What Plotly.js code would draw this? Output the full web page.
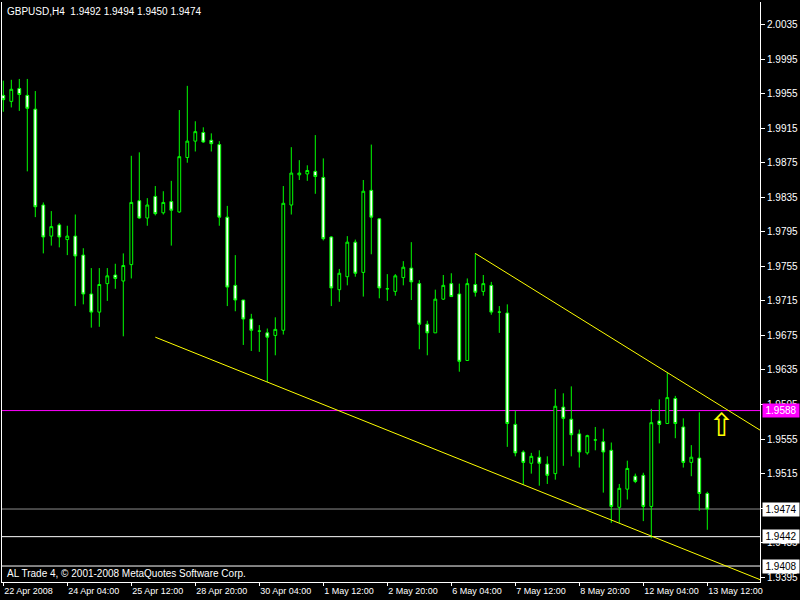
<!DOCTYPE html>
<html>
<head>
<meta charset="utf-8">
<script src="https://cdn.plot.ly/plotly-3.0.1.min.js"></script>
<style>html,body{margin:0;padding:0;background:#000;}#chart{width:800px;height:600px;}</style>
</head>
<body>
<div id="chart"></div>
<script>
// ---- data (GBPUSD H4, bar index 0 = 22 Apr 2008 20:00) ----
const symbol = 'GBPUSD';
const timeframe = 'H4';
const opens  = [1.9953,1.9946,1.9961,1.9953,1.9937,1.9826,1.9790,1.9803,1.9786,1.9790,
                1.9768,1.9723,1.9702,1.9735,1.9745,1.9738,1.9757,1.9831,1.9811,1.9836,
                1.9817,1.9830,1.9818,1.9881,1.9900,1.9910,1.9901,1.9896,1.9812,1.9733,
                1.9716,1.9694,1.9680,1.9678,1.9675,1.9681,1.9826,1.9861,1.9862,1.9865,
                1.9858,1.9789,1.9728,1.9743,1.9783,1.9748,1.9843,1.9810,1.9729,1.9726,
                1.9742,1.9753,1.9735,1.9688,1.9678,1.9717,1.9735,1.9723,1.9646,1.9734,
                1.9726,1.9733,1.9702,1.9701,1.9572,1.9540,1.9527,1.9534,1.9526,1.9515,
                1.9592,1.9578,1.9561,1.9539,1.9554,1.9552,1.9542,1.9476,1.9497,1.9512,
                1.9513,1.9477,1.9576,1.9573,1.9602,1.9569,1.9528,1.9533,1.9492];
const highs  = [1.9970,1.9971,1.9972,1.9972,1.9958,1.9829,1.9819,1.9805,1.9802,1.9815,
                1.9776,1.9753,1.9753,1.9753,1.9758,1.9770,1.9883,1.9887,1.9834,1.9848,
                1.9842,1.9854,1.9936,1.9964,1.9923,1.9916,1.9909,1.9900,1.9825,1.9768,
                1.9716,1.9700,1.9687,1.9683,1.9696,1.9848,1.9893,1.9878,1.9872,1.9907,
                1.9880,1.9790,1.9752,1.9790,1.9786,1.9855,1.9896,1.9811,1.9746,1.9746,
                1.9761,1.9783,1.9739,1.9692,1.9728,1.9745,1.9747,1.9735,1.9741,1.9770,
                1.9745,1.9737,1.9709,1.9711,1.9588,1.9542,1.9539,1.9542,1.9535,1.9613,
                1.9608,1.9616,1.9566,1.9560,1.9569,1.9567,1.9551,1.9503,1.9530,1.9515,
                1.9516,1.9590,1.9601,1.9632,1.9605,1.9579,1.9548,1.9586,1.9494];
const lows   = [1.9934,1.9939,1.9935,1.9865,1.9812,1.9770,1.9779,1.9777,1.9768,1.9709,
                1.9711,1.9684,1.9685,1.9715,1.9729,1.9674,1.9741,1.9810,1.9802,1.9814,
                1.9815,1.9779,1.9817,1.9875,1.9888,1.9898,1.9888,1.9802,1.9709,1.9703,
                1.9664,1.9657,1.9656,1.9621,1.9652,1.9676,1.9815,1.9855,1.9854,1.9839,
                1.9785,1.9709,1.9714,1.9733,1.9743,1.9720,1.9769,1.9718,1.9715,1.9721,
                1.9733,1.9716,1.9659,1.9652,1.9678,1.9716,1.9720,1.9633,1.9646,1.9720,
                1.9721,1.9699,1.9678,1.9546,1.9535,1.9502,1.9515,1.9501,1.9503,1.9508,
                1.9524,1.9535,1.9522,1.9537,1.9542,1.9493,1.9458,1.9458,1.9485,1.9504,
                1.9460,1.9440,1.9550,1.9573,1.9556,1.9522,1.9512,1.9472,1.9450];
const closes = [1.9948,1.9960,1.9954,1.9938,1.9824,1.9789,1.9801,1.9789,1.9790,1.9767,
                1.9723,1.9702,1.9734,1.9744,1.9741,1.9756,1.9829,1.9811,1.9826,1.9816,
                1.9829,1.9820,1.9882,1.9900,1.9911,1.9899,1.9897,1.9812,1.9731,1.9716,
                1.9694,1.9681,1.9680,1.9673,1.9682,1.9828,1.9863,1.9863,1.9866,1.9859,
                1.9787,1.9730,1.9747,1.9783,1.9747,1.9842,1.9812,1.9730,1.9729,1.9744,
                1.9754,1.9737,1.9688,1.9678,1.9717,1.9733,1.9720,1.9645,1.9735,1.9725,
                1.9735,1.9702,1.9702,1.9573,1.9539,1.9528,1.9535,1.9527,1.9513,1.9593,
                1.9579,1.9560,1.9540,1.9559,1.9554,1.9540,1.9477,1.9498,1.9521,1.9506,
                1.9477,1.9574,1.9572,1.9603,1.9573,1.9528,1.9534,1.9492,1.9474];

// x-axis tick labels (every 8 bars)
const xTickIdx  = [0, 8, 16, 24, 32, 40, 48, 56, 64, 72, 80, 88];
const xTickText = ['22 Apr 2008','24 Apr 04:00','25 Apr 12:00','28 Apr 20:00','30 Apr 04:00',
                   '1 May 12:00','2 May 20:00','6 May 04:00','7 May 12:00','8 May 20:00',
                   '12 May 04:00','13 May 12:00'];
// price scale labels
const yTicks = [1.9395,1.9435,1.9475,1.9515,1.9555,1.9595,1.9635,1.9675,1.9715,1.9755,
                1.9795,1.9835,1.9875,1.9915,1.9955,1.9995,2.0035];

// trend lines (two anchor points each, extended to the right as rays)
const lowerTrendIdx = [19, 33];
const lowerTrendPx  = [1.9673, 1.9621];
const upperTrendIdx = [59, 83];
const upperTrendPx  = [1.9770, 1.9632];

// horizontal lines
const hLinePrices = [1.9588, 1.9442, 1.9408];
const hLineColors = ['#ff00ff', '#ffffff', '#ffffff'];
const hLabelText  = ['#ffffff', '#000000', '#000000'];

// arrow object
const arrowIdx = [89.8];
const arrowPx  = [1.9571];

const footerText = 'AL Trade 4, \u00a9 2001-2008 MetaQuotes Software Corp.';

// ---- build ----
const n = closes.length;
const xIdx = closes.map((_, i) => i);
const last = n - 1;
const bid = closes[last];

function ray(ix, py, xEnd) {
  const slope = (py[1] - py[0]) / (ix[1] - ix[0]);
  return { x: [ix[0], xEnd], y: [py[0], py[0] + slope * (xEnd - ix[0])] };
}
const xMin = -0.1625, xMax = 94.5875;
const lr = ray(lowerTrendIdx, lowerTrendPx, 100);
const ur = ray(upperTrendIdx, upperTrendPx, 100);

const FONT = 'Liberation Sans, Arial, sans-serif';

const traces = [
  { type: 'scatter', mode: 'lines', x: lr.x, y: lr.y, line: {color: '#ffff00', width: 1}, hoverinfo: 'skip' },
  { type: 'scatter', mode: 'lines', x: ur.x, y: ur.y, line: {color: '#ffff00', width: 1}, hoverinfo: 'skip' },
  {
    type: 'candlestick', x: xIdx, open: opens, high: highs, low: lows, close: closes,
    increasing: { line: {color: '#00ff00', width: 1}, fillcolor: '#000000' },
    decreasing: { line: {color: '#00ff00', width: 1}, fillcolor: '#ffffff' },
    whiskerwidth: 0, hoverinfo: 'skip'
  }
];

const shapes = [];
hLinePrices.forEach((p, i) => {
  shapes.push({ type: 'line', xref: 'paper', x0: 0, x1: 1, yref: 'y', y0: p, y1: p,
    line: {color: hLineColors[i], width: 1}, layer: 'below' });
});
shapes.push({ type: 'line', xref: 'paper', x0: 0, x1: 1, yref: 'y', y0: bid, y1: bid,
  line: {color: '#8c8c8c', width: 1}, layer: 'below' });

const annotations = [];
const nb = '\u00a0';
annotations.push({
  xref: 'paper', yref: 'paper', x: 0, y: 1, xanchor: 'left', yanchor: 'top', xshift: 3, yshift: -2,
  text: symbol + ',' + timeframe + nb + nb + opens[last].toFixed(4) + ' ' + highs[last].toFixed(4) + ' ' +
        lows[last].toFixed(4) + ' ' + closes[last].toFixed(4),
  showarrow: false, font: {family: FONT, size: 10, color: '#ffffff'}
});
annotations.push({
  xref: 'paper', yref: 'paper', x: 0, y: 0, xanchor: 'left', yanchor: 'bottom', xshift: 3, yshift: 1,
  text: footerText, showarrow: false, font: {family: FONT, size: 10, color: '#ffffff'}
});
hLinePrices.forEach((p, i) => {
  annotations.push({
    xref: 'paper', yref: 'y', x: 1, y: p, xanchor: 'left', yanchor: 'middle', xshift: 2,
    text: p.toFixed(4), showarrow: false, bgcolor: hLineColors[i], width: 34, height: 11, borderpad: 1,
    font: {family: FONT, size: 10, color: hLabelText[i]}
  });
});
annotations.push({
  xref: 'paper', yref: 'y', x: 1, y: bid, xanchor: 'left', yanchor: 'middle', xshift: 2,
  text: bid.toFixed(4), showarrow: false, bgcolor: '#ffffff', width: 34, height: 11, borderpad: 1,
  font: {family: FONT, size: 10, color: '#000000'}
});
annotations.push({
  xref: 'x', yref: 'y', x: arrowIdx[0], y: arrowPx[0], xanchor: 'center', yanchor: 'middle',
  text: '\u21e7', showarrow: false, font: {family: 'DejaVu Sans', size: 32, color: '#ffff00'}
});

const layout = {
  width: 800, height: 600,
  paper_bgcolor: '#000000', plot_bgcolor: '#000000',
  margin: {l: 2, r: 40, t: 2, b: 18, pad: 0},
  showlegend: false,
  boxgap: 0.5,
  hovermode: false,
  xaxis: {
    type: 'linear', range: [xMin, xMax], tickmode: 'array', tickvals: xTickIdx, ticktext: xTickText,
    ticks: 'outside', ticklen: 3, tickcolor: '#ffffff', tickwidth: 1, tickangle: 0,
    showline: true, linecolor: '#ffffff', linewidth: 1, mirror: false,
    showgrid: false, zeroline: false, rangeslider: {visible: false},
    ticklabelposition: 'outside right', ticklabelstandoff: 0,
    tickfont: {family: FONT, size: 9, color: '#ffffff'}, fixedrange: true
  },
  yaxis: {
    side: 'right', range: [1.93895, 2.00611], tickmode: 'array', tickvals: yTicks,
    ticktext: yTicks.map(v => v.toFixed(4)),
    ticks: 'outside', ticklen: 4, tickcolor: '#ffffff', tickwidth: 1,
    showline: true, linecolor: '#ffffff', linewidth: 1, mirror: true,
    showgrid: false, zeroline: false,
    tickfont: {family: FONT, size: 10, color: '#ffffff'}, fixedrange: true
  },
  shapes: shapes,
  annotations: annotations
};

Plotly.newPlot('chart', traces, layout, {staticPlot: true, displayModeBar: false});
</script>
</body>
</html>
